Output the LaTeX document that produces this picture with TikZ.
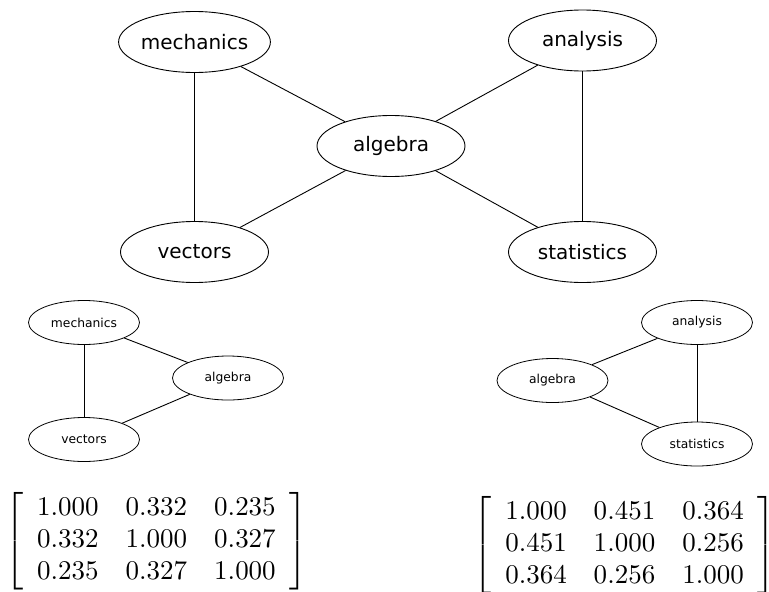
\documentclass[tikz,border=0pt]{standalone}
\usepackage{fontspec}
\usepackage{amsmath}
\usetikzlibrary{shapes.geometric}
\newfontfamily\dvsans{DejaVu Sans}
\tikzset{
  bignode/.style={ellipse, draw, line width=0.9pt, inner sep=0pt,
    minimum width=148pt, minimum height=61pt, font=\dvsans\fontsize{20}{24}\selectfont},
  smallnode/.style={ellipse, draw, line width=0.8pt, inner sep=0pt,
    minimum width=111pt, minimum height=44pt, font=\dvsans\fontsize{12.3}{15}\selectfont},
  edge/.style={line width=0.9pt},
  mat/.style={inner sep=0pt, scale=2.7}
}
\begin{document}
\begin{tikzpicture}[x=1pt,y=-1pt]
\useasboundingbox (0,0) rectangle (769,592);
% top graph
\node[bignode] (tmech) at (194.5,42) {mechanics};
\node[bignode] (tana)  at (582.5,40.5) {analysis};
\node[bignode] (talg)  at (391,146) {algebra};
\node[bignode] (tvec)  at (194.5,252) {vectors};
\node[bignode] (tstat) at (582.5,252) {statistics};
\draw[edge] (tmech) -- (tvec);
\draw[edge] (tmech) -- (talg);
\draw[edge] (talg) -- (tvec);
\draw[edge] (talg) -- (tana);
\draw[edge] (talg) -- (tstat);
\draw[edge] (tana) -- (tstat);
% small left graph
\node[smallnode] (lmech) at (84,322.5) {mechanics};
\node[smallnode] (lalg)  at (228,378) {algebra};
\node[smallnode] (lvec)  at (84,439.5) {vectors};
\draw[edge] (lmech) -- (lvec);
\draw[edge] (lmech) -- (lalg);
\draw[edge] (lalg) -- (lvec);
% small right graph
\node[smallnode] (rana)  at (697,322.5) {analysis};
\node[smallnode] (ralg)  at (552.5,380.5) {algebra};
\node[smallnode] (rstat) at (697,444) {statistics};
\draw[edge] (ralg) -- (rana);
\draw[edge] (ralg) -- (rstat);
\draw[edge] (rana) -- (rstat);
% matrices
\node[mat] (lmat) at (156.5,541) {$\left[\begin{array}{ccc}
1.000 & 0.332 & 0.235\\
0.332 & 1.000 & 0.327\\
0.235 & 0.327 & 1.000
\end{array}\right]$};
\node[mat] (rmat) at (624.5,545) {$\left[\begin{array}{ccc}
1.000 & 0.451 & 0.364\\
0.451 & 1.000 & 0.256\\
0.364 & 0.256 & 1.000
\end{array}\right]$};
\end{tikzpicture}
\end{document}
